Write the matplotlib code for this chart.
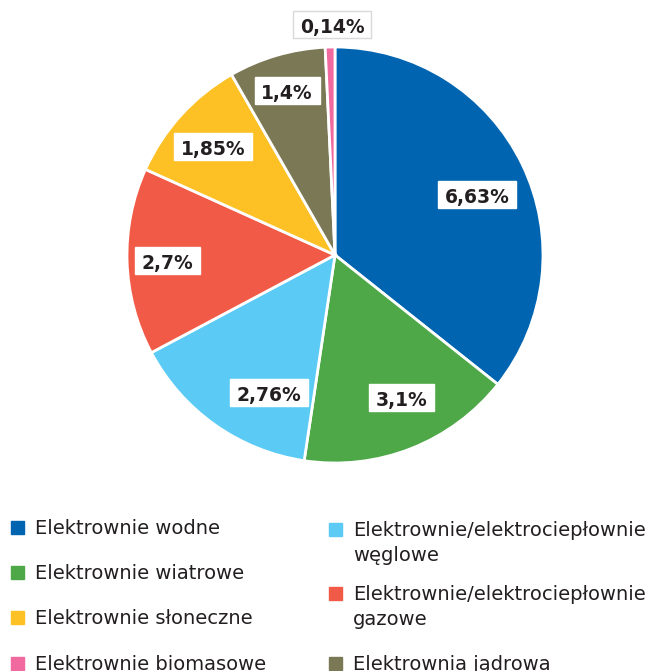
import numpy as np
import matplotlib.pyplot as plt
from matplotlib.patches import Rectangle
from matplotlib.path import Path

plt.rcParams['font.family'] = ['DejaVu Sans']

# clockwise from 12 o'clock
sources = ['Elektrownie wodne', 'Elektrownie wiatrowe',
           'Elektrownie/elektrociepłownie\nwęglowe',
           'Elektrownie/elektrociepłownie\ngazowe',
           'Elektrownie słoneczne', 'Elektrownia jądrowa',
           'Elektrownie biomasowe']
values = [6.63, 3.1, 2.76, 2.7, 1.85, 1.4, 0.14]
labels = ['6,63%', '3,1%', '2,76%', '2,7%', '1,85%', '1,4%', '0,14%']
colors = ['#0064b0', '#4ea848', '#5bcbf5', '#f15a46', '#fdc125', '#7b7955', '#f06a9f']

# legend layout: left column then right column
legend_left = [0, 1, 4, 6]
legend_right = [2, 3, 5]

W, H = 670, 671
fig = plt.figure(figsize=(W / 100, H / 100), dpi=100)

cx, cy, R_PX = 335, 255, 208
ax = fig.add_axes([(cx - R_PX) / W, 1 - (cy + R_PX) / H, 2 * R_PX / W, 2 * R_PX / H])
wedges, _ = ax.pie(values, colors=colors, startangle=90, counterclock=False,
                   radius=1, wedgeprops=dict(edgecolor='white', linewidth=2))
ax.set_xlim(-1, 1)
ax.set_ylim(-1, 1)
ax.set_aspect('equal')
ax.axis('off')


def label_box(x0, y0, width, height, mutation_size):
    # wider at the sides, more room above the digits than below
    px, ptop, pbot = 0.35 * mutation_size, 0.38 * mutation_size, 0.03 * mutation_size
    x1, y1 = x0 + width + px, y0 + height + ptop
    x0, y0 = x0 - px, y0 - pbot
    return Path([(x0, y0), (x1, y0), (x1, y1), (x0, y1), (x0, y0)], closed=True)


LABEL_FS = 13.5
em_px = LABEL_FS * 100 / 72
# (angle shift from wedge middle in degrees, distance from centre)
label_pos = [(-2.9, 0.74), (3.3, 0.757), (9.6, 0.737), (0.3, 0.806),
             (0.7, 0.784), (0.0, 0.82), (-0.6, 1.105)]
for w, lab, (dang, lr) in zip(wedges, labels, label_pos):
    ang = np.radians((w.theta1 + w.theta2) / 2 + dang)
    x, y = lr * np.cos(ang), lr * np.sin(ang)
    edge = '#d9d9d9' if lr > 1 else 'white'
    ax.text(x, y - 0.437 * em_px / R_PX, lab, ha='center', va='baseline',
            fontsize=LABEL_FS, fontweight='bold', color='#231f20', clip_on=False,
            bbox=dict(boxstyle=label_box, fc='white', ec=edge, lw=1))


def legend_item(i, x, baseline):
    fig.patches.append(Rectangle((x / W, 1 - baseline / H), 13 / W, 13 / H,
                                 transform=fig.transFigure, color=colors[i]))
    for k, line in enumerate(sources[i].split('\n')):
        fig.text((x + 24) / W, 1 - (baseline + 25 * k) / H, line, fontsize=14,
                 color='#231f20', ha='left', va='baseline')


for i, b in zip(legend_left, [534, 579, 624, 670]):
    legend_item(i, 11, b)
for i, b in zip(legend_right, [536, 600, 670]):
    legend_item(i, 329, b)

fig.savefig('out.png', dpi=100)
